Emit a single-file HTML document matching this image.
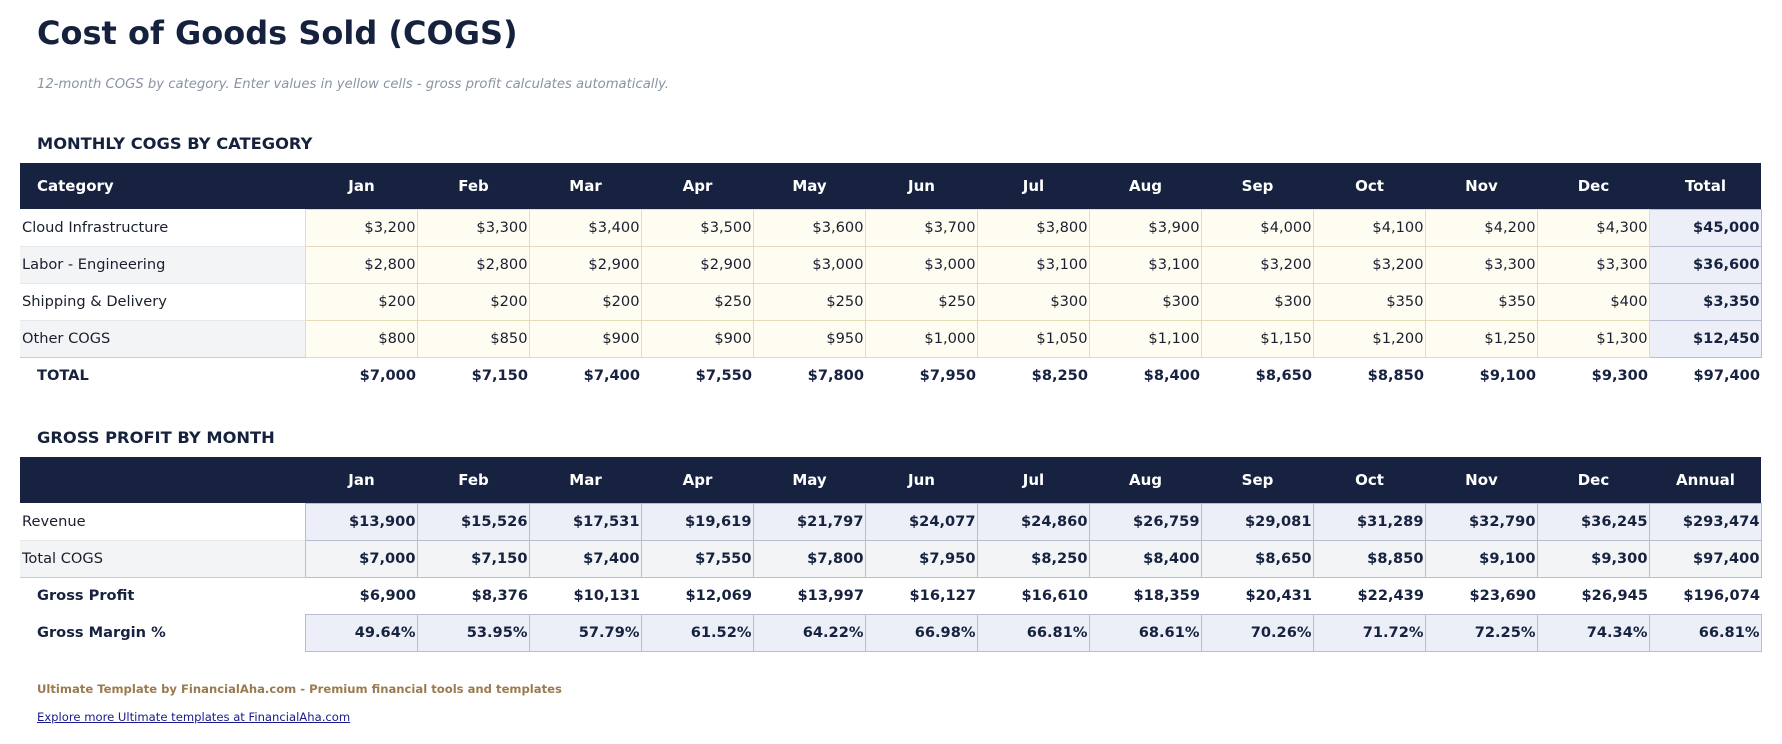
<!DOCTYPE html>
<html><head><meta charset="utf-8"><style>
body{margin:0;width:1782px;height:744px;background:#fff;font-family:"DejaVu Sans","Liberation Sans",sans-serif;color:#1a1f2e;position:relative;overflow:hidden}
.t{position:absolute;left:37px;white-space:nowrap}
table{position:absolute;left:20px;border-collapse:collapse;table-layout:fixed;width:1741px;font-size:14.6px}
col.l{width:285px}col.m{width:112px}
td,th{height:37px;padding:0 1px 0 2px;white-space:nowrap;overflow:hidden;box-sizing:border-box}
th{background:#16223f;color:#fff;font-weight:bold;height:46px;text-align:center;font-size:15px}
th.c{text-align:left;padding-left:17px}
td{text-align:right}
td.lab{text-align:left}
tr.alt td.lab{background:#f3f4f6}
td.y{background:#fffcf2;border:1px solid #e6dcb8}
td.tot{background:#eceff7;border:1px solid #b8bdd4;font-weight:bold;color:#16223f}
tr.b td{font-weight:bold;color:#16223f}
tr.b td.lab{padding-left:17px}
tr.last td.lab{border-bottom:1px solid #c9ccd6}
tr.alt td.lab{border-top:1px solid #e6e7ea}
</style></head><body>
<div class="t" style="top:14px;font-size:32px;font-weight:bold;color:#15213d">Cost of Goods Sold (COGS)</div>
<div class="t" style="top:77px;font-size:13.2px;font-style:italic;color:#8a93a3">12-month COGS by category. Enter values in yellow cells - gross profit calculates automatically.</div>
<div class="t" style="top:134px;font-size:16.3px;font-weight:bold;color:#15213d">MONTHLY COGS BY CATEGORY</div>
<table style="top:163px">
<colgroup><col class="l"><col class="m"><col class="m"><col class="m"><col class="m"><col class="m"><col class="m"><col class="m"><col class="m"><col class="m"><col class="m"><col class="m"><col class="m"><col class="m"></colgroup>
<tr><th class="c">Category</th><th>Jan</th><th>Feb</th><th>Mar</th><th>Apr</th><th>May</th><th>Jun</th><th>Jul</th><th>Aug</th><th>Sep</th><th>Oct</th><th>Nov</th><th>Dec</th><th>Total</th></tr>
<tr><td class="lab">Cloud Infrastructure</td><td class="y">$3,200</td><td class="y">$3,300</td><td class="y">$3,400</td><td class="y">$3,500</td><td class="y">$3,600</td><td class="y">$3,700</td><td class="y">$3,800</td><td class="y">$3,900</td><td class="y">$4,000</td><td class="y">$4,100</td><td class="y">$4,200</td><td class="y">$4,300</td><td class="tot">$45,000</td></tr>
<tr class="alt"><td class="lab">Labor - Engineering</td><td class="y">$2,800</td><td class="y">$2,800</td><td class="y">$2,900</td><td class="y">$2,900</td><td class="y">$3,000</td><td class="y">$3,000</td><td class="y">$3,100</td><td class="y">$3,100</td><td class="y">$3,200</td><td class="y">$3,200</td><td class="y">$3,300</td><td class="y">$3,300</td><td class="tot">$36,600</td></tr>
<tr><td class="lab" style="border-top:1px solid #e6e7ea">Shipping &amp; Delivery</td><td class="y">$200</td><td class="y">$200</td><td class="y">$200</td><td class="y">$250</td><td class="y">$250</td><td class="y">$250</td><td class="y">$300</td><td class="y">$300</td><td class="y">$300</td><td class="y">$350</td><td class="y">$350</td><td class="y">$400</td><td class="tot">$3,350</td></tr>
<tr class="alt last"><td class="lab">Other COGS</td><td class="y">$800</td><td class="y">$850</td><td class="y">$900</td><td class="y">$900</td><td class="y">$950</td><td class="y">$1,000</td><td class="y">$1,050</td><td class="y">$1,100</td><td class="y">$1,150</td><td class="y">$1,200</td><td class="y">$1,250</td><td class="y">$1,300</td><td class="tot">$12,450</td></tr>
<tr class="b"><td class="lab">TOTAL</td><td>$7,000</td><td>$7,150</td><td>$7,400</td><td>$7,550</td><td>$7,800</td><td>$7,950</td><td>$8,250</td><td>$8,400</td><td>$8,650</td><td>$8,850</td><td>$9,100</td><td>$9,300</td><td>$97,400</td></tr>
</table>
<div class="t" style="top:428px;font-size:16.3px;font-weight:bold;color:#15213d">GROSS PROFIT BY MONTH</div>
<table style="top:457px">
<colgroup><col class="l"><col class="m"><col class="m"><col class="m"><col class="m"><col class="m"><col class="m"><col class="m"><col class="m"><col class="m"><col class="m"><col class="m"><col class="m"><col class="m"></colgroup>
<tr><th class="c"></th><th>Jan</th><th>Feb</th><th>Mar</th><th>Apr</th><th>May</th><th>Jun</th><th>Jul</th><th>Aug</th><th>Sep</th><th>Oct</th><th>Nov</th><th>Dec</th><th>Annual</th></tr>
<tr><td class="lab">Revenue</td><td class="tot">$13,900</td><td class="tot">$15,526</td><td class="tot">$17,531</td><td class="tot">$19,619</td><td class="tot">$21,797</td><td class="tot">$24,077</td><td class="tot">$24,860</td><td class="tot">$26,759</td><td class="tot">$29,081</td><td class="tot">$31,289</td><td class="tot">$32,790</td><td class="tot">$36,245</td><td class="tot">$293,474</td></tr>
<tr class="alt last"><td class="lab">Total COGS</td><td class="tot" style="background:#f3f4f6">$7,000</td><td class="tot" style="background:#f3f4f6">$7,150</td><td class="tot" style="background:#f3f4f6">$7,400</td><td class="tot" style="background:#f3f4f6">$7,550</td><td class="tot" style="background:#f3f4f6">$7,800</td><td class="tot" style="background:#f3f4f6">$7,950</td><td class="tot" style="background:#f3f4f6">$8,250</td><td class="tot" style="background:#f3f4f6">$8,400</td><td class="tot" style="background:#f3f4f6">$8,650</td><td class="tot" style="background:#f3f4f6">$8,850</td><td class="tot" style="background:#f3f4f6">$9,100</td><td class="tot" style="background:#f3f4f6">$9,300</td><td class="tot" style="background:#f3f4f6">$97,400</td></tr>
<tr class="b"><td class="lab">Gross Profit</td><td>$6,900</td><td>$8,376</td><td>$10,131</td><td>$12,069</td><td>$13,997</td><td>$16,127</td><td>$16,610</td><td>$18,359</td><td>$20,431</td><td>$22,439</td><td>$23,690</td><td>$26,945</td><td>$196,074</td></tr>
<tr class="b"><td class="lab">Gross Margin %</td><td class="tot">49.64%</td><td class="tot">53.95%</td><td class="tot">57.79%</td><td class="tot">61.52%</td><td class="tot">64.22%</td><td class="tot">66.98%</td><td class="tot">66.81%</td><td class="tot">68.61%</td><td class="tot">70.26%</td><td class="tot">71.72%</td><td class="tot">72.25%</td><td class="tot">74.34%</td><td class="tot">66.81%</td></tr>
</table>
<div class="t" style="top:682px;font-size:11.6px;font-weight:bold;color:#9a7b4f">Ultimate Template by FinancialAha.com - Premium financial tools and templates</div>
<div class="t" style="top:710px;font-size:11.6px;color:#1a1a8c;text-decoration:underline">Explore more Ultimate templates at FinancialAha.com</div>
</body></html>
